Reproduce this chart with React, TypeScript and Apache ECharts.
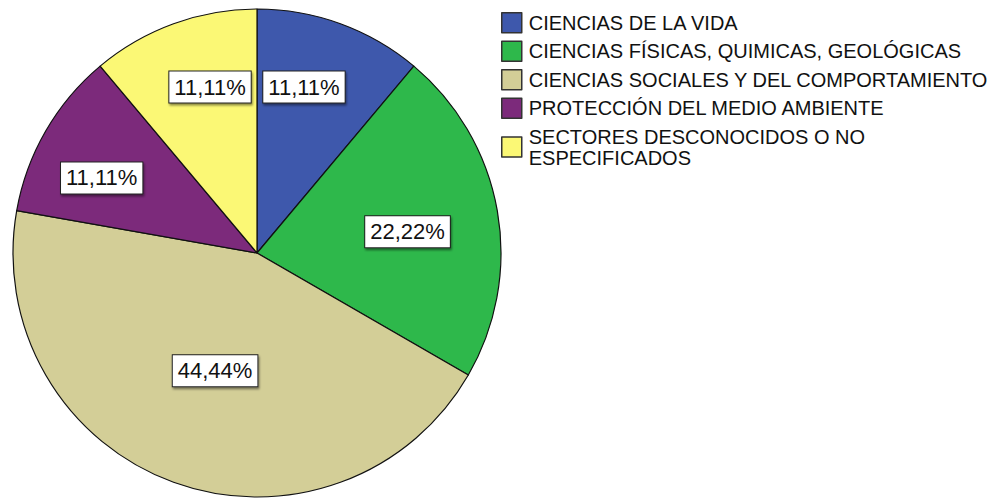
import React, { useEffect, useRef } from "react";
import * as echarts from "echarts";

const categories = [
  "CIENCIAS DE LA VIDA",
  "CIENCIAS FÍSICAS, QUIMICAS, GEOLÓGICAS",
  "CIENCIAS SOCIALES Y DEL COMPORTAMIENTO",
  "PROTECCIÓN DEL MEDIO AMBIENTE",
  "SECTORES DESCONOCIDOS O NO\nESPECIFICADOS",
];
const percents = [11.11, 22.22, 44.44, 11.11, 11.11];
const colors = ["#3E58AC", "#2EB84B", "#D3CE97", "#7C2A7B", "#FBF875"];
// label placement styles: distance from centre (fraction of radius) and angular shift (degrees)
const labelRadiusFactor = [0.707, 0.623, 0.512, 0.707, 0.707];
const labelAngleShift = [-4.2, 2, -0.4, -4.2, 4.2];

const CX = 257;
const CY = 253;

export default function App() {
  const ref = useRef<HTMLDivElement>(null);
  useEffect(() => {
    document.body.style.margin = "0";
    const chart = echarts.init(ref.current!, undefined, { renderer: "svg" });
    const R = 244;
    chart.setOption({
      animation: false,
      backgroundColor: "#ffffff",
      legend: {
        orient: "vertical",
        left: 496,
        top: 7,
        itemWidth: 20,
        itemHeight: 20,
        itemGap: 7,
        selectedMode: false,
        icon: "rect",
        itemStyle: { borderColor: "#333", borderWidth: 1.5 },
        textStyle: {
          fontFamily: "Liberation Sans, Arial, sans-serif",
          fontSize: 20,
          color: "#111",
          lineHeight: 21,
          padding: [0, 0, 0, 2],
        },
        data: categories,
      },
      series: [
        {
          type: "pie",
          center: [CX, CY],
          radius: [0, R],
          startAngle: 90,
          clockwise: true,
          avoidLabelOverlap: false,
          itemStyle: { borderColor: "#111", borderWidth: 1.2 },
          label: {
            show: true,
            position: "inside",
            formatter: (p: any) => p.value.toFixed(2).replace(".", ",") + "%",
            fontFamily: "Liberation Sans, Arial, sans-serif",
            fontSize: 22,
            color: "#111",
            backgroundColor: "#ffffff",
            borderColor: "#222",
            borderWidth: 1,
            padding: [5, 5, 4, 5],
            shadowColor: "rgba(0,0,0,0.45)",
            shadowOffsetX: 1,
            shadowOffsetY: 2,
            shadowBlur: 2,
          },
          labelLayout: (params: any) => {
            const r = params.labelRect;
            const x0 = r.x + r.width / 2 - CX;
            const y0 = r.y + r.height / 2 - CY;
            const ang =
              Math.atan2(x0, -y0) + (labelAngleShift[params.dataIndex] * Math.PI) / 180;
            const d = labelRadiusFactor[params.dataIndex] * R;
            return { x: CX + d * Math.sin(ang), y: CY - d * Math.cos(ang) };
          },
          emphasis: { disabled: true },
          data: categories.map((name, i) => ({
            name,
            value: percents[i],
            itemStyle: { color: colors[i] },
          })),
        },
      ],
    });
    return () => chart.dispose();
  }, []);
  return <div ref={ref} style={{ width: 1003, height: 498 }} />;
}
